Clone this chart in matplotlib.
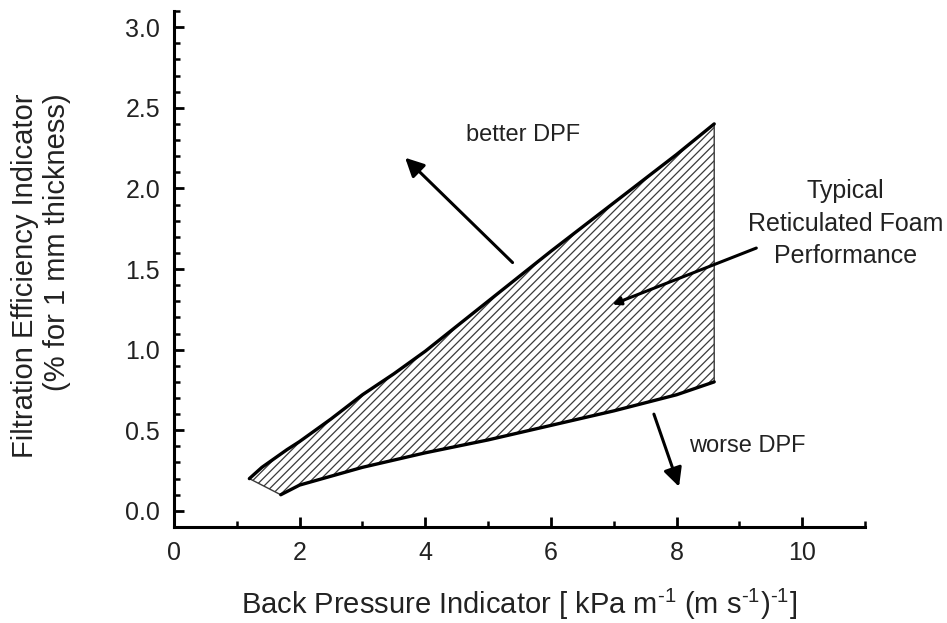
import matplotlib
matplotlib.use('Agg')
import matplotlib.pyplot as plt
from matplotlib.ticker import MultipleLocator

plt.rcParams['font.family'] = ['Liberation Sans', 'DejaVu Sans']
plt.rcParams['mathtext.fontset'] = 'custom'
plt.rcParams['mathtext.rm'] = 'Liberation Sans'
plt.rcParams['mathtext.default'] = 'regular'
plt.rcParams['hatch.linewidth'] = 0.9

# envelope of typical reticulated foam performance
upper_x = [1.2, 1.4, 1.8, 2.0, 2.5, 3.0, 3.5, 4.0, 5.0, 6.0, 7.0, 8.0, 8.6]
upper_y = [0.20, 0.27, 0.38, 0.43, 0.57, 0.72, 0.85, 0.99, 1.30, 1.61, 1.91, 2.21, 2.40]
lower_x = [1.7, 2.0, 3.0, 4.0, 5.0, 6.0, 7.0, 8.0, 8.6]
lower_y = [0.10, 0.16, 0.27, 0.36, 0.44, 0.53, 0.62, 0.72, 0.80]

# annotation anchors (data coords)
better_tail, better_head = (5.39, 1.54), (3.68, 2.19)
worse_tail, worse_head = (7.64, 0.60), (8.04, 0.15)
foam_tail, foam_head = (9.27, 1.63), (6.98, 1.28)

TXT = '#222222'

fig = plt.figure(figsize=(9.47, 6.23), dpi=100)
ax = fig.add_axes([0.1837, 0.1541, 0.7297, 0.8282])

poly_x = upper_x + [8.6] + lower_x[::-1]
poly_y = upper_y + [lower_y[-1]] + lower_y[::-1]
ax.fill(poly_x, poly_y, facecolor='white', edgecolor='#3a3a3a',
        hatch='////', linewidth=1.0, zorder=2)
ax.plot(upper_x, upper_y, color='black', lw=2.4, solid_capstyle='round', zorder=3)
ax.plot(lower_x, lower_y, color='black', lw=2.4, solid_capstyle='round', zorder=3)

ax.annotate('', xy=better_head, xytext=better_tail,
            arrowprops=dict(arrowstyle='-|>', color='black', lw=2.2,
                            mutation_scale=28, shrinkA=0, shrinkB=0))
ax.annotate('', xy=worse_head, xytext=worse_tail,
            arrowprops=dict(arrowstyle='-|>', color='black', lw=2.2,
                            mutation_scale=28, shrinkA=0, shrinkB=0))
ax.annotate('', xy=foam_head, xytext=foam_tail,
            arrowprops=dict(arrowstyle='-|>', color='black', lw=2.2,
                            mutation_scale=12, shrinkA=0, shrinkB=0))

ax.text(5.55, 2.33, 'better DPF', fontsize=17, color=TXT, ha='center', va='center')
ax.text(8.2, 0.40, 'worse DPF', fontsize=17, color=TXT, ha='left', va='center')
ax.text(10.69, 1.78, 'Typical\nReticulated Foam\nPerformance', fontsize=18,
        color=TXT, ha='center', va='center', linespacing=1.45, clip_on=False)

ax.set_xlim(0, 11)
ax.set_ylim(-0.1, 3.1)
ax.xaxis.set_major_locator(MultipleLocator(2))
ax.xaxis.set_minor_locator(MultipleLocator(1))
ax.yaxis.set_major_locator(MultipleLocator(0.5))
ax.yaxis.set_minor_locator(MultipleLocator(0.1))
ax.set_xticks(range(0, 11, 2))
ax.set_yticks([0.0, 0.5, 1.0, 1.5, 2.0, 2.5, 3.0])
ax.set_yticklabels(['0.0', '0.5', '1.0', '1.5', '2.0', '2.5', '3.0'])

for s in ('top', 'right'):
    ax.spines[s].set_visible(False)
for s in ('left', 'bottom'):
    ax.spines[s].set_linewidth(2.2)

ax.tick_params(which='major', direction='in', length=7, width=2,
               labelsize=18, labelcolor=TXT, pad=10)
ax.tick_params(which='minor', direction='in', length=4, width=1.8)

ax.set_xlabel(r'Back Pressure Indicator [ kPa m$^{\text{-1}}$ (m s$^{\text{-1}}$)$^{\text{-1}}$]',
              fontsize=21, color=TXT, labelpad=16)
fig.text(41 / 947, 1 - 93 / 623,
         'Filtration Efficiency Indicator\n(% for 1 mm thickness)',
         fontsize=21, color=TXT, rotation=90, ha='center', va='top',
         multialignment='right', linespacing=1.15)

plt.savefig('out.png', dpi=100, facecolor='white')
plt.close()
